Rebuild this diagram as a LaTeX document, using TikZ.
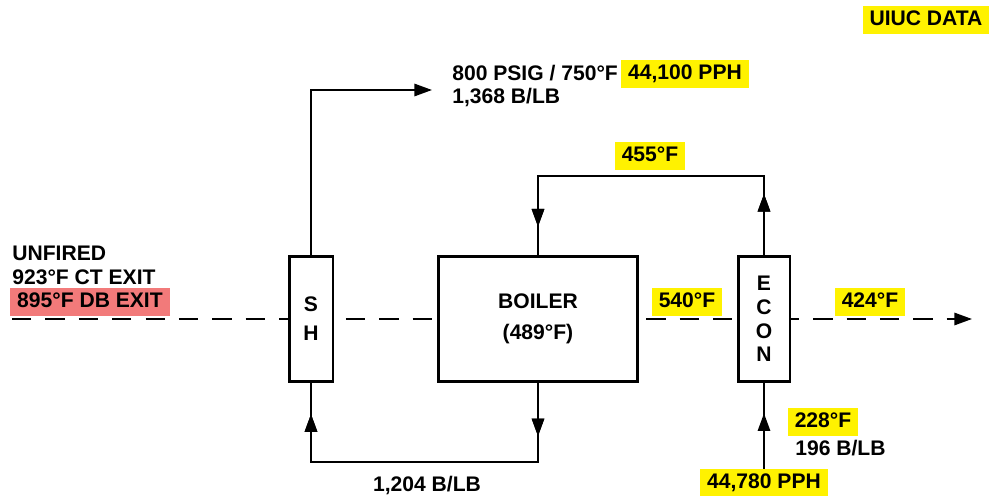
\documentclass[tikz,border=0pt]{standalone}
\usepackage{fontspec}
\setmainfont{Liberation Sans}
\usetikzlibrary{arrows.meta,decorations.markings}
\definecolor{hotred}{RGB}{242,122,122}

\begin{document}
\begin{tikzpicture}[x=0.02cm,y=-0.02cm,
  every node/.style={font=\bfseries\fontsize{12}{13.5}\selectfont},
  unitbox/.style={draw,line width=1.7pt,fill=white,align=center,inner sep=0pt},
  hilite/.style={fill=yellow,inner xsep=4pt,inner ysep=2.5pt,text height=8.6pt,text depth=2.2pt},
  redlite/.style={hilite,fill=hotred},
  flow/.style={line width=1.1pt},
  endarrow/.style={-{Triangle[length=10pt,width=7pt]}},
  midarrow/.style={postaction=decorate,decoration={markings,
    mark=at position #1 with {\arrow{Triangle[length=10pt,width=7pt]}}}}]

  \useasboundingbox (0,0) rectangle (991,496);

  % Gas path
  \coordinate (gasin) at (12,319);
  \coordinate (gasout) at (972,319);
  \draw[flow,endarrow,dash pattern=on 11pt off 8pt] (gasin) -- (gasout);

  % Units
  \node[unitbox,minimum width=0.88cm,minimum height=2.52cm] (sh) at (311,319)
    {S\\[3pt]H};
  \node[unitbox,minimum width=4cm,minimum height=2.52cm] (boiler) at (538,319)
    {BOILER\\[4pt](489°F)};
  \node[unitbox,minimum width=1.04cm,minimum height=2.52cm] (econ) at (764,319)
    {E\\C\\O\\N};

  % Steam out
  \coordinate (steamend) at (432,90);
  \draw[flow,endarrow] (sh.north) |- (steamend);
  \node[anchor=west,align=left,inner sep=0pt] (steam) at (452,86)
    {800 PSIG / 750°F\\1,368 B/LB};
  \node[hilite] (steamflow) at (685,74) {44,100 PPH};

  % Feedwater loop econ -> boiler
  \draw[flow,midarrow=0.158,midarrow=0.927]
    (econ.north) -- (econ.north |- 0,176) -- (boiler.north |- 0,176) -- (boiler.north);
  \node[hilite] (fwtemp) at (650,156) {455°F};

  % Saturated steam boiler -> SH
  \draw[flow,midarrow=0.137,midarrow=0.92]
    (boiler.south) -- (boiler.south |- 0,462) -- (sh.south |- 0,462) -- (sh.south);
  \node (satsteam) at (427,485) {1,204 B/LB};

  % Feedwater in
  \node[hilite] (feed) at (764,483) {44,780 PPH};
  \draw[flow,midarrow=0.65] (feed.north) -- (econ.south);
  \node[hilite] (feedtemp) at (823,422) {228°F};
  \node[anchor=west,inner sep=0pt] (feedenth) at (795,448) {196 B/LB};

  % Gas temperatures
  \node[anchor=west,align=left,inner sep=0pt] (unfired) at (12,265.5)
    {UNFIRED\\923°F CT EXIT};
  \node[redlite] (dbexit) at (90,302) {895°F DB EXIT};
  \node[hilite] (boilout) at (687,302) {540°F};
  \node[hilite] (stack) at (870,302) {424°F};

  \node[hilite] (source) at (926,20) {UIUC DATA};

\end{tikzpicture}
\end{document}
